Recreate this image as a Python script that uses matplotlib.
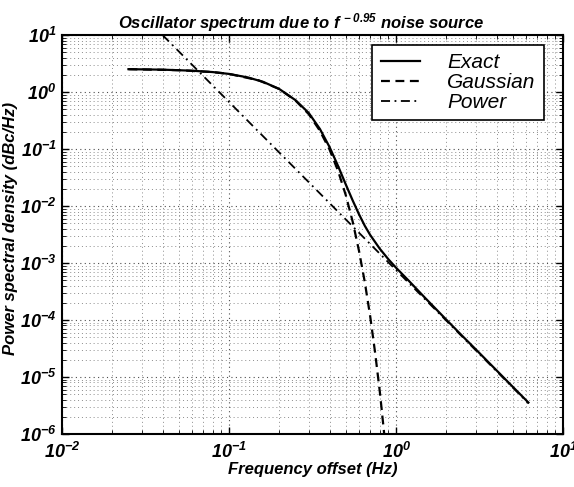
import matplotlib.pyplot as plt
import numpy as np
from matplotlib.ticker import LogLocator, NullFormatter

plt.rcParams['font.family'] = ['Liberation Sans', 'DejaVu Sans']
plt.rcParams['mathtext.fontset'] = 'custom'
plt.rcParams['mathtext.it'] = 'Liberation Sans:bold:italic'
plt.rcParams['mathtext.rm'] = 'Liberation Sans:bold:italic'
plt.rcParams['mathtext.bf'] = 'Liberation Sans:bold:italic'

# Exact spectrum
freq_exact = [0.025, 0.04, 0.06, 0.08, 0.1, 0.13, 0.16, 0.2, 0.25, 0.3, 0.35,
              0.4, 0.45, 0.5, 0.55, 0.6, 0.65, 0.7, 0.8, 0.9, 1.0, 1.2, 1.5,
              2.0, 2.5, 3.0, 4.0, 5.0, 6.2]
psd_exact = [2.52, 2.47, 2.37, 2.24, 2.08, 1.8, 1.51, 1.13, 0.72, 0.43, 0.225,
             0.108, 0.05, 0.0239, 0.0125, 7.15e-3, 4.49e-3, 3.1e-3, 1.77e-3,
             1.16e-3, 8.25e-4, 4.77e-4, 2.4e-4, 1.01e-4, 5.2e-5, 3.05e-5,
             1.3e-5, 6.7e-6, 3.55e-6]

# Gaussian approximation
freq_gauss = [0.025, 0.05, 0.08, 0.1, 0.15, 0.2, 0.25, 0.3, 0.35, 0.4, 0.45,
              0.5, 0.55, 0.6, 0.65, 0.7, 0.75, 0.8, 0.86]
psd_gauss = [2.52, 2.42, 2.24, 2.08, 1.61, 1.13, 0.71, 0.41, 0.209, 0.0975,
             0.041, 0.0155, 5.3e-3, 1.63e-3, 4.6e-4, 1.16e-4, 2.6e-5, 5.4e-6,
             7.0e-7]

# Power-law approximation (straight line in log-log)
freq_power = [0.04, 6.2]
psd_power = [10.0, 3.45e-6]

fig = plt.figure(figsize=(5.74, 4.87), dpi=100)
ax = fig.add_axes([0.108, 0.109, 0.873, 0.819])

ax.loglog(freq_exact, psd_exact, color='black', lw=1.6, label='Exact')
ax.loglog(freq_gauss, psd_gauss, color='black', lw=1.6, ls=(0, (4, 2.5)),
          label='Gaussian')
ax.loglog(freq_power, psd_power, color='black', lw=1.3,
          ls=(0, (5, 2.5, 1, 2.5)), label='Power')

ax.set_xlim(1e-2, 1e1)
ax.set_ylim(1e-6, 1e1)

# MATLAB-style dotted grid, major and minor
ax.grid(True, which='major', ls=(0, (1, 3)), lw=0.8, color='0.3')
ax.grid(True, which='minor', ls=(0, (1, 3)), lw=0.7, color='0.55')

ax.tick_params(which='both', direction='in', top=True, right=True)
ax.tick_params(which='major', length=5, width=1, labelsize=13)
ax.tick_params(which='minor', length=3, width=0.6)
for s in ax.spines.values():
    s.set_linewidth(1.5)

ax.set_xticks([1e-2, 1e-1, 1e0, 1e1])
ax.set_yticks([10.0 ** k for k in range(-6, 2)])
ax.xaxis.set_minor_locator(LogLocator(subs=np.arange(2, 10)))
ax.yaxis.set_minor_locator(LogLocator(subs=np.arange(2, 10)))
ax.xaxis.set_minor_formatter(NullFormatter())
ax.yaxis.set_minor_formatter(NullFormatter())

ax.set_xticklabels([r'$10^{-2}$', r'$10^{-1}$', r'$10^{0}$', r'$10^{1}$'])
ax.set_yticklabels([r'$10^{%d}$' % k for k in range(-6, 2)])
ax.tick_params(axis='x', pad=6)
ax.tick_params(axis='y', pad=4)

ax.set_xlabel('Frequency offset (Hz)', fontsize=12, fontweight='bold',
              fontstyle='italic', labelpad=0)
ax.set_ylabel('Power spectral density (dBc/Hz)', fontsize=12,
              fontweight='bold', fontstyle='italic')
ax.yaxis.set_label_coords(-0.087, 0.516)
ax.set_title(r'Oscillator spectrum due to $f^{\,-0.95}$ noise source',
             fontsize=12, fontweight='bold', fontstyle='italic', pad=5,
             x=0.478)

leg = ax.legend(loc='upper left', bbox_to_anchor=(0.619, 0.976),
                prop={'style': 'italic', 'size': 15},
                handlelength=1.9, handletextpad=1.3, labelspacing=0.05,
                borderaxespad=0, borderpad=0.4, fancybox=False,
                framealpha=1, edgecolor='black')
leg.get_frame().set_linewidth(1.2)

fig.savefig('out.png', dpi=100)
